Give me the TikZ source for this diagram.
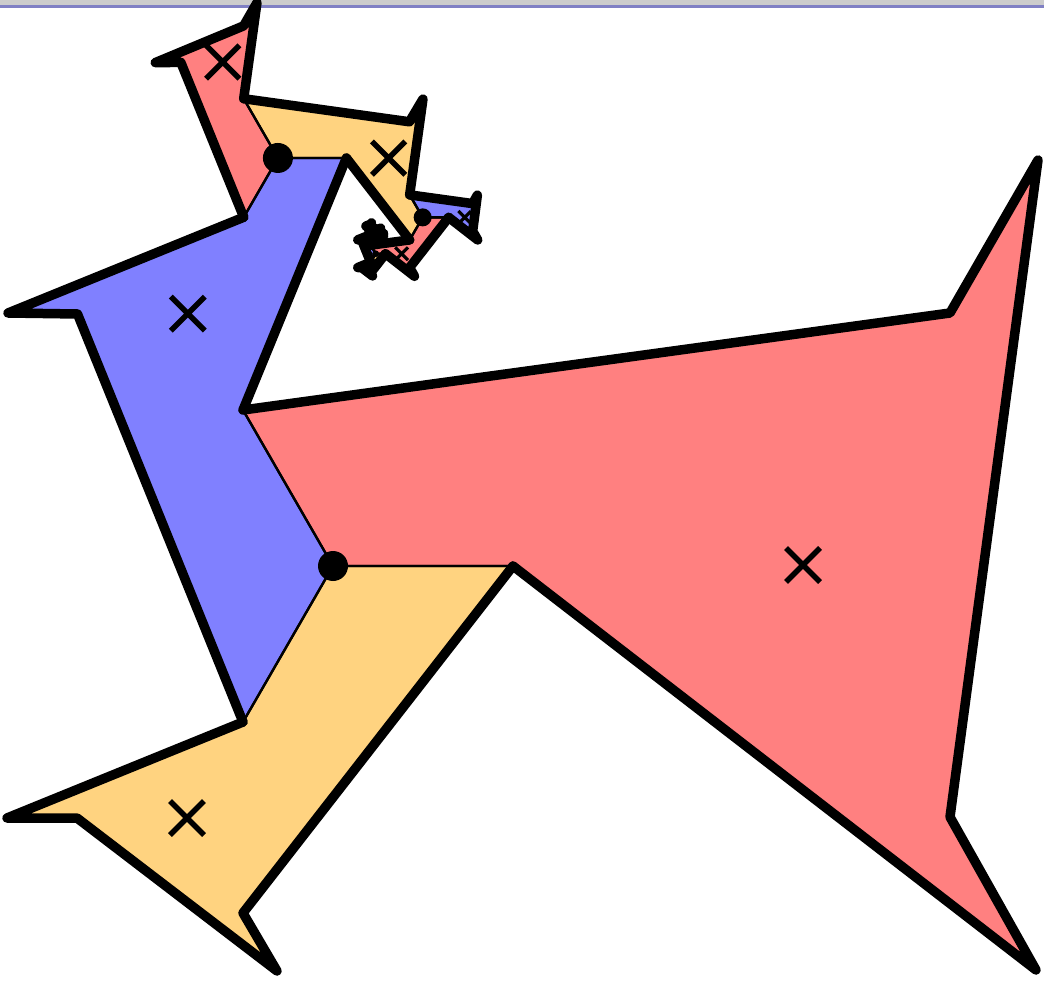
\documentclass[tikz,border=0pt]{standalone}
\usetikzlibrary{shapes.misc}
\definecolor{tred}{RGB}{255,128,128}
\definecolor{tblue}{RGB}{128,128,255}
\definecolor{tyellow}{RGB}{255,211,128}
\definecolor{stripgray}{RGB}{204,204,204}
\definecolor{stripblue}{RGB}{128,128,196}
\pgfdeclarelayer{fills}
\pgfdeclarelayer{edges}
\pgfdeclarelayer{marks}
\pgfsetlayers{fills,main,edges,marks}

% corner points of one level (pixel units, y pointing down)
\newcommand{\ptA}{(333,566)}
\newcommand{\ptB}{(243,410)}
\newcommand{\ptG}{(513,566)}
\newcommand{\ptYa}{(243,722)}
% next junction and its two neighbours
\newcommand{\ptJ}{(278,158)}
\newcommand{\ptTG}{(243.8,217.2)}
\newcommand{\ptTB}{(346.4,158)}
% notched tile
\newcommand{\ptQa}{(77.5,314)}
\newcommand{\ptQb}{(8,313)}
% plain tile
\newcommand{\ptYe}{(243,913)}
\newcommand{\ptYd}{(277,971)}
\newcommand{\ptYc}{(77,818)}
\newcommand{\ptYb}{(7,818)}
% centres of the two tiles
\newcommand{\ptXN}{(187.8,313.6)}
\newcommand{\ptXP}{(187,818)}

\begin{document}
\begin{tikzpicture}[x=1pt, y=-1pt,
    outer/.style={line width=9.5pt, line join=round, line cap=round},
    inner/.style={line width=2.3pt, line join=round},
    crossmark/.style={cross out, draw, inner sep=0pt, outer sep=0pt},
    jdot/.style={circle, fill, inner sep=0pt, outer sep=0pt}]
    \useasboundingbox (0,0) rectangle (1044,981);
    \begin{pgfonlayer}{fills}
        \fill[white] (0,0) rectangle (1044,981);
        \fill[stripgray] (0,0) rectangle (1044,5);
        \fill[stripblue] (0,5) rectangle (1044,8);
    \end{pgfonlayer}

    % Outermost tile
    \coordinate (A) at (333,566);
    \coordinate (B) at (243,410);
    \coordinate (C) at (950,313);
    \coordinate (D) at (1038,160);
    \coordinate (E) at (950,817);
    \coordinate (F) at (1036,970);
    \coordinate (G) at (513,566);
    \begin{pgfonlayer}{fills}
        \fill[tred] (A) -- (B) -- (C) -- (D) -- (E) -- (F) -- (G) -- cycle;
    \end{pgfonlayer}
    \draw[inner] (B) -- (A) -- (G);
    \begin{pgfonlayer}{edges}
        \draw[outer] (B) -- (C) -- (D) -- (E) -- (F) -- (G);
    \end{pgfonlayer}
    \begin{pgfonlayer}{marks}
        \node[crossmark, minimum size=34pt, line width=5.5pt] (xred) at (803,565) {};
    \end{pgfonlayer}

    % Spiral of shrinking tile pairs, each turned by 120 degrees
    \foreach \k/\cn/\cp in {0/tblue/tyellow, 1/tyellow/tred, 2/tred/tblue,
        3/tblue/tyellow, 4/tyellow/tred, 5/tred/tblue, 6/tblue/tyellow}{
        \pgfmathsetmacro\lvr{-120*\k}
        \pgfmathsetmacro\lvs{0.38^\k}
        \pgfmathsetmacro\xsz{min(34,88*\lvs)}
        \pgfmathsetmacro\xlw{min(5.5,22*\lvs)}
        \pgfmathsetmacro\dsz{min(30,125*\lvs)}
        \begin{scope}[shift={(378.1,235.6)}, rotate=\lvr, scale=\lvs,
            shift={(-378.1,-235.6)}]
            \begin{pgfonlayer}{fills}
                \fill[\cn] \ptA -- \ptB -- \ptTB -- \ptJ -- \ptTG -- \ptQb -- \ptQa -- \ptYa -- cycle;
                \fill[\cp] \ptA -- \ptG -- \ptYe -- \ptYd -- \ptYc -- \ptYb -- \ptYa -- cycle;
            \end{pgfonlayer}
            \draw[inner] \ptA -- \ptB -- \ptTB -- \ptJ -- \ptTG -- \ptQb -- \ptQa -- \ptYa -- cycle;
            \draw[inner] \ptA -- \ptG -- \ptYe -- \ptYd -- \ptYc -- \ptYb -- \ptYa -- cycle;
            \begin{pgfonlayer}{edges}
                \draw[outer] \ptTB -- \ptB;
                \draw[outer] \ptYa -- \ptQa -- \ptQb -- \ptTG;
                \draw[outer] \ptG -- \ptYe -- \ptYd -- \ptYc -- \ptYb -- \ptYa;
            \end{pgfonlayer}
            \begin{pgfonlayer}{marks}
                \path \ptXN node[crossmark, minimum size=\xsz pt, line width=\xlw pt] (xn\k) {};
                \path \ptXP node[crossmark, minimum size=\xsz pt, line width=\xlw pt] (xp\k) {};
                \path \ptA node[jdot, minimum size=\dsz pt] (j\k) {};
            \end{pgfonlayer}
        \end{scope}
    }
\end{tikzpicture}
\end{document}
